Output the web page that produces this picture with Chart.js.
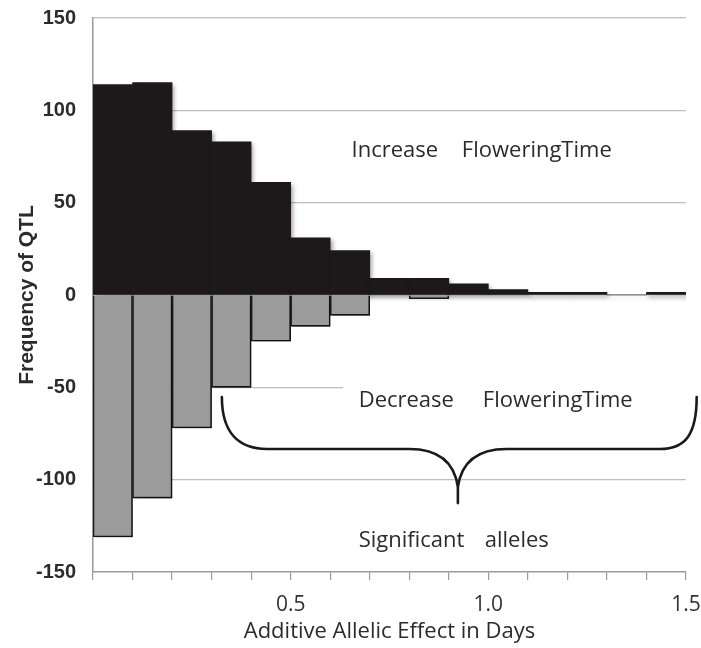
<!DOCTYPE html>
<html>
<head>
<meta charset="utf-8">
<script src="https://cdn.jsdelivr.net/npm/chart.js@4/dist/chart.umd.min.js"></script>
<style>
html,body{margin:0;padding:0;background:#fff;}
#wrap{width:701px;height:648px;}
</style>
</head>
<body>
<div id="wrap"><canvas id="c" width="701" height="648"></canvas></div>
<script>
// ---- data ----
const binCenters = [0.05,0.15,0.25,0.35,0.45,0.55,0.65,0.75,0.85,0.95,1.05,1.15,1.25,1.35,1.45];
const increaseCounts = [114,115,89,83,61,31,24,9,9,6,3,1.5,1.5,0,1.5];
const decreaseCounts = [-131,-110,-72,-50,-25,-17,-11,0,-2,0,0,0,0,0,0];
const xTickValues = [0.5,1.0,1.5];
const xTickLabels = ['0.5','1.0','1.5'];
const yTickStep = 50;
const xTitle = 'Additive Allelic Effect in Days';
const yTitle = 'Frequency of QTL';
const increaseWords = ['Increase','FloweringTime'];
const decreaseWords = ['Decrease','FloweringTime'];
const significantWords = ['Significant','alleles'];

const textFont = '"Open Sans", "Liberation Sans", sans-serif';
const boldFont = '"Liberation Sans", Arial, sans-serif';

const annotations = {
  id: 'annotations',
  beforeDatasetsDraw(chart) {
    const {ctx} = chart;
    const xs = chart.scales.x, ys = chart.scales.y;
    // white box behind "Decrease FloweringTime"
    ctx.save();
    ctx.fillStyle = '#ffffff';
    const x0 = xs.getPixelForValue(0.632), x1 = xs.getPixelForValue(1.5);
    const y0 = ys.getPixelForValue(-46), y1 = ys.getPixelForValue(-66);
    ctx.fillRect(x0, y0, x1 - x0, y1 - y0);
    ctx.restore();
    // bar shadows
    ctx.save();
    ctx.shadowColor = 'rgba(0,0,0,0.35)';
    ctx.shadowBlur = 4;
    ctx.shadowOffsetX = 2;
    ctx.shadowOffsetY = 3;
  },
  afterDatasetsDraw(chart) {
    chart.ctx.restore();
  },
  afterDraw(chart) {
    const {ctx} = chart;
    const xs = chart.scales.x, ys = chart.scales.y;
    const P = (xv, yv) => [xs.getPixelForValue(xv), ys.getPixelForValue(yv)];
    ctx.save();
    ctx.fillStyle = '#2b2b2b';
    ctx.font = '22px ' + textFont;
    ctx.textBaseline = 'alphabetic';
    ctx.textAlign = 'left';
    const put = (word, xv, yv) => { const p = P(xv, yv); ctx.fillText(word, p[0], p[1]); };
    put(increaseWords[0], 0.654, 74.8);
    put(increaseWords[1], 0.933, 74.8);
    put(decreaseWords[0], 0.672, -60.7);
    put(decreaseWords[1], 0.986, -60.7);
    put(significantWords[0], 0.672, -136.5);
    put(significantWords[1], 0.991, -136.5);

    // curly brace
    ctx.strokeStyle = '#1a1a1a';
    ctx.lineWidth = 2.6;
    ctx.lineCap = 'round';
    ctx.beginPath();
    let p = P(0.326, -55.3); ctx.moveTo(p[0], p[1]);
    let a = P(0.326, -75), b = P(0.37, -83.4), c = P(0.44, -83.4);
    ctx.bezierCurveTo(a[0], a[1], b[0], b[1], c[0], c[1]);
    p = P(0.80, -83.4); ctx.lineTo(p[0], p[1]);
    a = P(0.88, -83.4); b = P(0.915, -92); c = P(0.923, -104);
    ctx.bezierCurveTo(a[0], a[1], b[0], b[1], c[0], c[1]);
    p = P(0.923, -112.7); ctx.lineTo(p[0], p[1]);
    p = P(0.923, -104); ctx.moveTo(p[0], p[1]);
    a = P(0.931, -92); b = P(0.966, -83.4); c = P(1.046, -83.4);
    ctx.bezierCurveTo(a[0], a[1], b[0], b[1], c[0], c[1]);
    p = P(1.434, -83.4); ctx.lineTo(p[0], p[1]);
    a = P(1.50, -83.4); b = P(1.527, -75); c = P(1.527, -55.3);
    ctx.bezierCurveTo(a[0], a[1], b[0], b[1], c[0], c[1]);
    ctx.stroke();
    ctx.restore();
  }
};

new Chart(document.getElementById('c'), {
  type: 'bar',
  data: {
    labels: binCenters,
    datasets: [
      {
        label: 'Increase',
        data: binCenters.map((x, i) => ({x: x, y: increaseCounts[i]})),
        backgroundColor: '#1d191a',
        borderWidth: 0,
        grouped: false,
        order: 2,
        barPercentage: 1,
        categoryPercentage: 1
      },
      {
        label: 'Decrease',
        data: binCenters.map((x, i) => ({x: x, y: decreaseCounts[i]})),
        backgroundColor: '#9b9b9b',
        borderColor: '#1a1a1a',
        borderWidth: 1.6,
        grouped: false,
        order: 1,
        barPercentage: 1,
        categoryPercentage: 1
      }
    ]
  },
  options: {
    responsive: false,
    animation: false,
    events: [],
    layout: {padding: {top: 18, right: 0, bottom: 0, left: 0}},
    plugins: {legend: {display: false}, tooltip: {enabled: false}},
    scales: {
      x: {
        type: 'linear',
        min: 0, max: 1.5,
        offset: false,
        afterFit: (s) => { s.height = 76; s.paddingRight = 15; s.paddingLeft = 0; },
        grid: {offset: false, drawOnChartArea: false, drawTicks: true, tickLength: 8, color: '#9a9a9a', lineWidth: 1.2},
        border: {display: true, color: '#9a9a9a', width: 1.5},
        ticks: {
          stepSize: 0.1,
          autoSkip: false,
          maxRotation: 0,
          padding: 12,
          color: '#333',
          font: {family: textFont, size: 21},
          callback: (v) => {
            const i = xTickValues.findIndex(t => Math.abs(t - v) < 1e-6);
            return i >= 0 ? xTickLabels[i] : '';
          }
        },
        title: {display: true, text: xTitle, color: '#2b2b2b', font: {family: textFont, size: 22}, padding: {top: 0, bottom: 3}}
      },
      y: {
        min: -150, max: 150,
        afterFit: (s) => { s.width = 93; s.paddingTop = 0; s.paddingBottom = 0; },
        grid: {drawTicks: false, color: (c) => c.tick && c.tick.value === -150 ? 'rgba(0,0,0,0)' : '#bdbdbd', lineWidth: 1.2},
        border: {display: true, color: '#9a9a9a', width: 1.5},
        ticks: {stepSize: yTickStep, padding: 17, color: '#2b2b2b', font: {family: boldFont, size: 20, weight: 'bold'}},
        title: {display: true, text: yTitle, color: '#2b2b2b', font: {family: boldFont, size: 21, weight: 'bold'}, padding: {top: 15, bottom: 0}}
      }
    }
  },
  plugins: [annotations]
});
</script>
</body>
</html>
